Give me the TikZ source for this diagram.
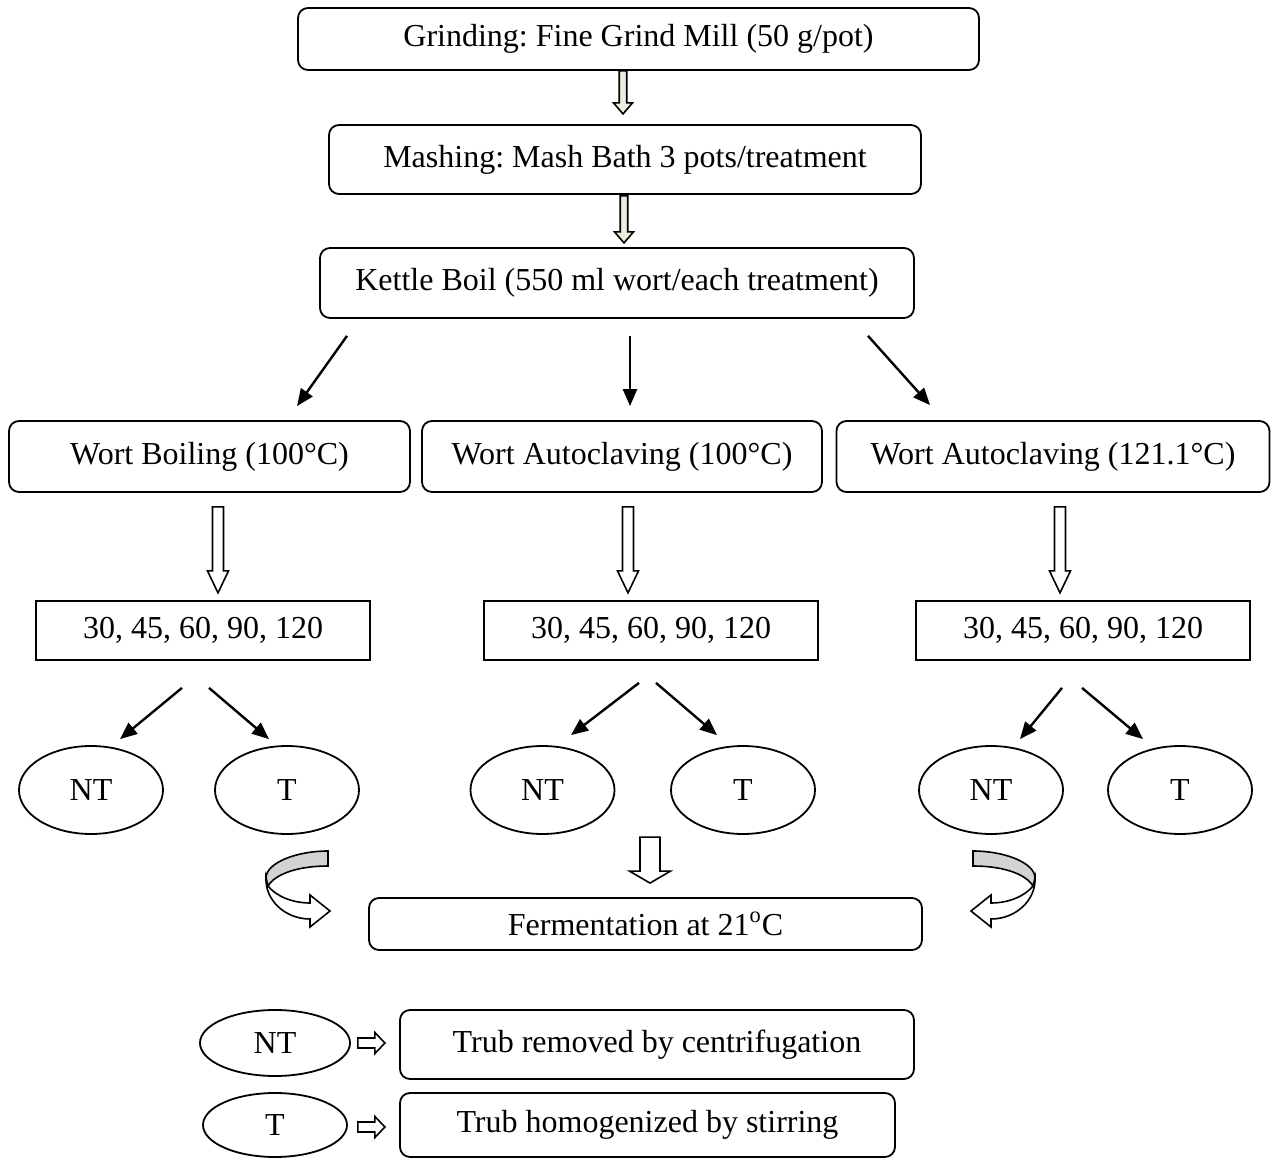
\documentclass[tikz,border=0pt]{standalone}
\usepackage{fontspec}
\setmainfont{Liberation Serif}
\usepackage{tikz}
\usetikzlibrary{arrows.meta,positioning,calc,shapes.geometric}
\definecolor{creamfill}{HTML}{EEECE1}
\definecolor{ribbongray}{HTML}{D3D3D3}
\newcommand{\boxfont}{\fontsize{16}{19}\selectfont\frenchspacing}
% block arrow pointing down: top point, length, half shaft, half head, head length
\newcommand{\blockarrow}[6][]{%
  \draw[blockline,#1] ($(#2)+(-#4,0)$) -- ($(#2)+(-#4,#3-#6)$) -- ($(#2)+(-#5,#3-#6)$)
    -- ($(#2)+(0,#3)$) -- ($(#2)+(#5,#3-#6)$) -- ($(#2)+(#4,#3-#6)$) -- ($(#2)+(#4,0)$) -- cycle;}
% same, pointing right: left point, length, half shaft, half head, head length
\newcommand{\sidearrow}[6][]{%
  \draw[blockline,#1] ($(#2)+(0,-#4)$) -- ($(#2)+(#3-#6,-#4)$) -- ($(#2)+(#3-#6,-#5)$)
    -- ($(#2)+(#3,0)$) -- ($(#2)+(#3-#6,#5)$) -- ($(#2)+(#3-#6,#4)$) -- ($(#2)+(0,#4)$) -- cycle;}
\tikzset{
  stepbox/.style={
    rounded corners=5pt,
    draw,
    line width=0.9pt,
    inner sep=0pt,
    align=center,
    font=\boxfont
  },
  numbox/.style={
    draw,
    line width=0.9pt,
    inner sep=0pt,
    minimum width=167pt,
    minimum height=29.5pt,
    font=\boxfont
  },
  trubell/.style={
    ellipse,
    draw,
    line width=0.9pt,
    inner sep=0pt,
    minimum width=72pt,
    minimum height=44pt,
    font=\boxfont
  },
  arrow/.style={
    -{Triangle[length=8.5pt,width=7pt]},
    line width=1.2pt
  },
  blockline/.style={
    draw,
    fill=white,
    line width=0.8pt,
    line join=miter
  },
  ribbon/.pic={
    \draw[line width=0.8pt, fill=white] (-60,35) .. controls (-52,45) and (-36,52) .. (-18,52)
      -- (-18,44) -- (2,60) -- (-18,76) -- (-18,68)
      .. controls (-43,68) and (-63,49) .. (-62,27) -- cycle;
    \draw[line width=0.8pt, fill=ribbongray] (0,0) .. controls (-32,0) and (-62,12) .. (-62,27)
      -- (-60,35) .. controls (-52,22) and (-28,15) .. (0,15) -- cycle;
  }
}

\begin{document}
\begin{tikzpicture}[x=0.5pt, y=-0.5pt]
\useasboundingbox (0,0) rectangle (1279,1159);
% top of the process
\node[stepbox, minimum width=340.5pt, minimum height=31pt] (grind) at (638.5,39) {Grinding: Fine Grind Mill (50 g/pot)};
\node[stepbox, minimum width=296pt, minimum height=34.5pt] (mash) at (625,159.5) {Mashing: Mash Bath 3 pots/treatment};
\node[stepbox, minimum width=297pt, minimum height=35pt] (kettle) at (617,283) {Kettle Boil (550 ml wort/each treatment)};
\coordinate (grindout) at ($(grind.south)+(-15.5,0)$);
\coordinate (mashout) at ($(mash.south)+(-1,1)$);
\blockarrow[fill=creamfill]{grindout}{43}{3.75}{9.5}{11}
\blockarrow[fill=creamfill]{mashout}{47}{3.75}{9.5}{11}

% three treatments
\node[stepbox, minimum width=200.5pt, minimum height=35.5pt] (boil) at (209.5,456.5) {Wort Boiling (100°C)};
\node[stepbox, minimum width=200pt, minimum height=35.5pt] (autoA) at (622,456.5) {Wort Autoclaving (100°C)};
\node[stepbox, minimum width=216.5pt, minimum height=35.5pt] (autoB) at (1053,456.5) {Wort Autoclaving (121.1°C)};
\draw[arrow] ($(kettle.south)+(-270,17)$) -- ($(boil.north)+(87.5,-14)$);
\draw[arrow] ($(kettle.south)+(13,17)$) -- ($(autoA.north)+(8,-14)$);
\draw[arrow] ($(kettle.south)+(251,17)$) -- ($(autoB.north)+(-123,-15)$);

\coordinate (boilout) at ($(boil.south)+(8.5,14)$);
\coordinate (autoAout) at ($(autoA.south)+(6,14)$);
\coordinate (autoBout) at ($(autoB.south)+(7,14)$);
\blockarrow{boilout}{86}{5.5}{10.5}{22}
\blockarrow{autoAout}{86}{5.5}{10.5}{22}
\blockarrow{autoBout}{86}{5.5}{10.5}{22}

% boiling times
\node[numbox] (timesA) at (203,630.5) {30, 45, 60, 90, 120};
\node[numbox] (timesB) at (651,630.5) {30, 45, 60, 90, 120};
\node[numbox] (timesC) at (1083,630.5) {30, 45, 60, 90, 120};

\node[trubell] (ntA) at (91,790) {NT};
\node[trubell] (tA) at (287,790) {T};
\node[trubell] (ntB) at (542.5,790) {NT};
\node[trubell] (tB) at (743,790) {T};
\node[trubell] (ntC) at (991,790) {NT};
\node[trubell] (tC) at (1180,790) {T};
\draw[arrow] ($(timesA.south)+(-21,27)$) -- ($(ntA.north)+(29,-6)$);
\draw[arrow] ($(timesA.south)+(6,27)$) -- ($(tA.north)+(-18,-6)$);
\draw[arrow] ($(timesB.south)+(-12,22)$) -- ($(ntB.north)+(28.5,-10)$);
\draw[arrow] ($(timesB.south)+(5,22)$) -- ($(tB.north)+(-26,-10)$);
\draw[arrow] ($(timesC.south)+(-21,27)$) -- ($(ntC.north)+(29,-6)$);
\draw[arrow] ($(timesC.south)+(-1,27)$) -- ($(tC.north)+(-37,-6)$);

% fermentation
\node[stepbox, minimum width=276.5pt, minimum height=26pt] (ferment) at (645.5,924) {Fermentation at 21\textsuperscript{o}C};
\coordinate (fermentin) at ($(ferment.north)+(4.5,-60)$);
\blockarrow{fermentin}{46}{10}{20.5}{12}
\pic at (328,851) {ribbon};
\pic[xscale=-1] at (973,851) {ribbon};

% legend
\node[trubell, minimum width=75pt, minimum height=33pt] (keyNT) at (275,1043) {NT};
\node[trubell, minimum width=72pt, minimum height=32pt] (keyT) at (275,1125) {T};
\node[stepbox, minimum width=257pt, minimum height=34.5pt] (keyA) at (657,1044.5) {Trub removed by centrifugation};
\node[stepbox, minimum width=247.5pt, minimum height=32pt] (keyB) at (647.5,1125) {Trub homogenized by stirring};
\coordinate (keyNTout) at ($(keyNT.east)+(7,0)$);
\coordinate (keyTout) at ($(keyT.east)+(10,2)$);
\sidearrow{keyNTout}{27}{5}{10.5}{10}
\sidearrow{keyTout}{27}{5}{10.5}{10}
\end{tikzpicture}
\end{document}
